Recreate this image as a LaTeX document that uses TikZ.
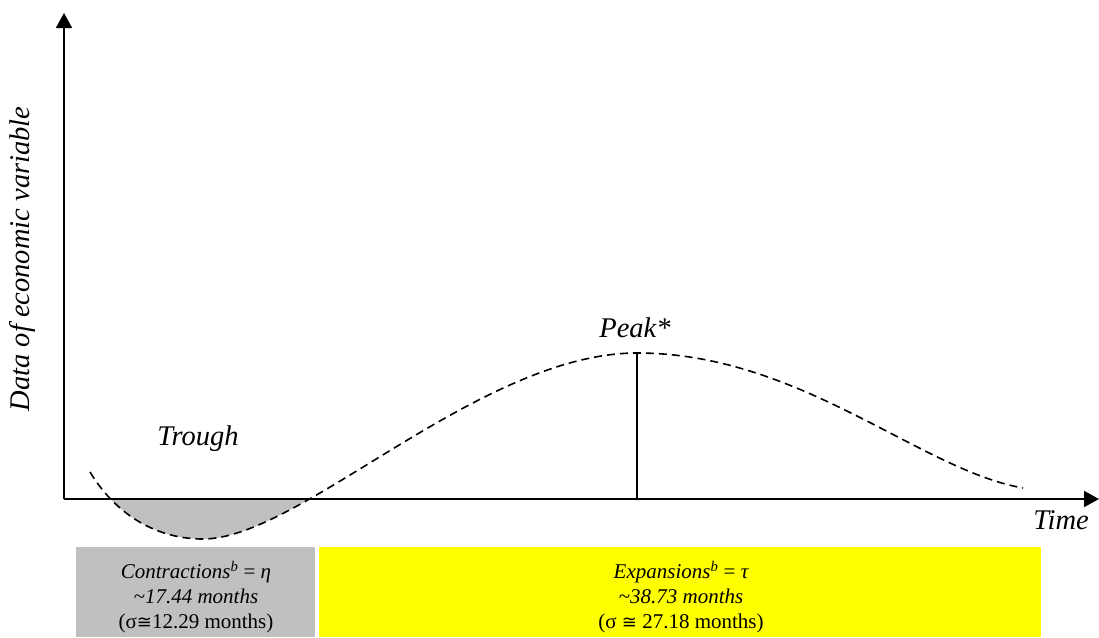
\documentclass[tikz,border=0pt]{standalone}
\usepackage{fontspec}
\setmainfont{Liberation Serif}
\newfontfamily\symfont{DejaVu Sans}
\usetikzlibrary{arrows.meta}
\definecolor{troughgray}{HTML}{C0C0C0}
\definecolor{expyellow}{HTML}{FFFF00}
\newcommand{\congsym}{{\symfont\fontsize{18}{18}\selectfont ≅}}
\tikzset{
  axisline/.style={line width=1.8pt, -{Triangle[length=15pt,width=16pt]}},
  cycleline/.style={line width=1.6pt, dash pattern=on 8pt off 5pt},
  peakline/.style={line width=1.8pt},
  biglabel/.style={font=\fontsize{28.5}{34}\selectfont\itshape, inner sep=0pt},
  boxtext/.style={font=\fontsize{21}{25}\selectfont, align=center, inner sep=0pt},
  phasebox/.style={draw=none, inner sep=0pt, anchor=north west}
}
\begin{document}
\begin{tikzpicture}[x=1pt,y=-1pt]
\useasboundingbox (0,0) rectangle (1099,637);
\fill[white] (0,0) rectangle (1099,637);
% phase boxes
\node[phasebox, fill=troughgray, minimum width=239pt, minimum height=90pt] (cbox) at (76,547) {};
\node[phasebox, fill=expyellow, minimum width=722pt, minimum height=90pt] (ebox) at (319,547) {};
\node[boxtext] (ctext) at (196,597) {\itshape Contractions\textsuperscript{b} \upshape=\itshape{} η\\ \itshape\textasciitilde17.44 months\\ (σ\congsym12.29 months)};
\node[boxtext] (etext) at (681,597) {\itshape Expansions\textsuperscript{b} \upshape=\itshape{} τ\\ \itshape\textasciitilde38.73 months\\ (σ \congsym{} 27.18 months)};
% trough fill
\begin{scope}
\clip (0,499) rectangle (1099,637);
\fill[troughgray] (90,472) .. controls (118,518) and (160,539) .. (203,539)
  .. controls (300,539) and (480,353) .. (637,353) -- cycle;
\end{scope}
% coordinates
\coordinate (O) at (64,499);
\coordinate (ytip) at (64,13);
\coordinate (xtip) at (1099,499);
\coordinate (cstart) at (90,472);
\coordinate (trough) at (203,539);
\coordinate (peak) at (637,353);
\coordinate (cend) at (1023,488);
\coordinate (peakfoot) at (637,499);
% dashed cycle curve
\draw[cycleline] (cstart) .. controls (118,518) and (160,539) .. (trough)
  .. controls (300,539) and (480,353) .. (peak)
  .. controls (800,353) and (920,470) .. (cend);
% axes
\draw[axisline] (O) -- (ytip);
\draw[axisline] (O) -- (xtip);
\draw[peakline] (peakfoot) -- (peak);
% labels
\node[biglabel, rotate=90] (ylabel) at (22,259) {Data of economic variable};
\node[biglabel, anchor=base] (peaklabel) at (635,337) {Peak*};
\node[biglabel, anchor=base] (troughlabel) at (198,445) {Trough};
\node[biglabel, anchor=base] (timelabel) at (1061,529) {Time};
\end{tikzpicture}
\end{document}
